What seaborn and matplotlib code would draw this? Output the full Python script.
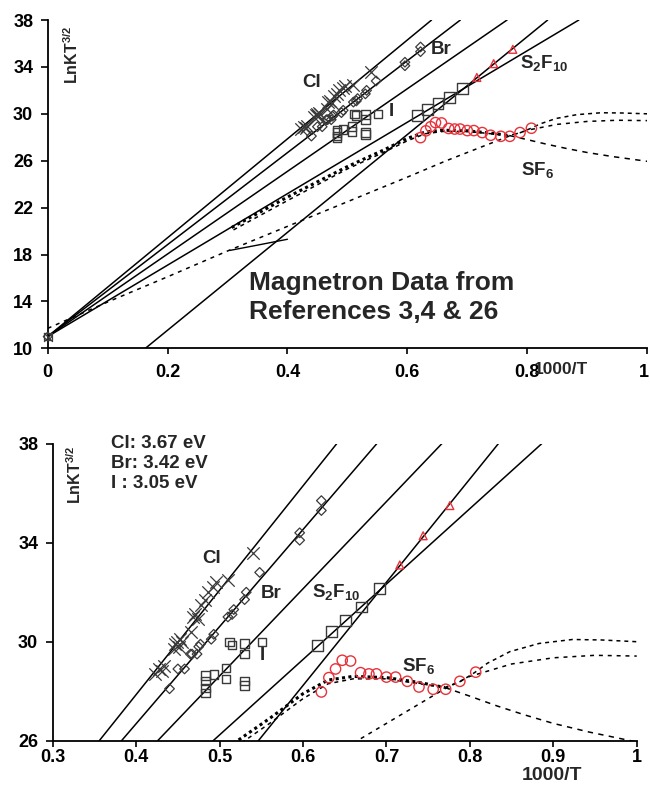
import numpy as np
import pandas as pd
import matplotlib
matplotlib.use("Agg")
import matplotlib.pyplot as plt
import matplotlib.transforms as mtransforms
import seaborn as sns

# ---------------- data ----------------
cl_x = [0.423, 0.427, 0.431, 0.433, 0.445, 0.447, 0.449, 0.451, 0.453, 0.455,
        0.466, 0.468, 0.471, 0.474, 0.478, 0.482, 0.486, 0.492, 0.496, 0.510, 0.540]
cl_y = [28.7, 28.9, 28.8, 29.0, 29.7, 29.9, 30.0, 29.8, 30.1, 30.0,
        30.4, 31.0, 31.1, 30.9, 31.5, 31.7, 32.0, 32.2, 32.4, 32.5, 33.6]

br_x = [0.440, 0.450, 0.458, 0.465, 0.467, 0.473, 0.475, 0.477, 0.490, 0.493,
        0.510, 0.515, 0.517, 0.530, 0.532, 0.548, 0.596, 0.596, 0.622, 0.622]
br_y = [28.1, 28.9, 28.9, 29.5, 29.5, 29.5, 29.8, 29.9, 30.1, 30.3,
        31.0, 31.1, 31.3, 31.7, 32.0, 32.8, 34.1, 34.4, 35.3, 35.7]

i_x = [0.483, 0.483, 0.483, 0.483, 0.493, 0.508, 0.508, 0.512, 0.515,
       0.530, 0.530, 0.530, 0.530, 0.551]
i_y = [28.63, 28.40, 28.13, 27.93, 28.67, 28.93, 28.49, 30.0, 29.87,
       29.93, 29.51, 28.40, 28.23, 30.0]

s2f10_sq_x = [0.617, 0.634, 0.651, 0.670, 0.692]
s2f10_sq_y = [29.85, 30.4, 30.87, 31.4, 32.15]

s2f10_tri_x = [0.716, 0.744, 0.776]
s2f10_tri_y = [33.1, 34.28, 35.5]

sf6_x = [0.622, 0.631, 0.639, 0.647, 0.657, 0.669, 0.679, 0.688, 0.700, 0.711,
         0.725, 0.739, 0.756, 0.771, 0.788, 0.807]
sf6_y = [27.97, 28.55, 28.9, 29.25, 29.22, 28.75, 28.7, 28.7, 28.57, 28.57,
         28.4, 28.17, 28.08, 28.08, 28.4, 28.77]

origin_x = [0.0]
origin_y = [11.0]

# fitted straight lines: y = intercept + slope * (1000/T)
line_names = ["Cl", "Br", "I", "S2F10 a", "S2F10 b"]
line_slope = [42.16, 39.22, 35.23, 30.47, 41.72]
line_icpt = [11.0, 11.0, 11.0, 11.0, 3.20]

# SF6 model curves
sf6a_x = [0.0, 0.1, 0.2, 0.3, 0.4, 0.5, 0.6, 0.665, 0.72, 0.77, 0.80, 0.85, 0.90, 0.95, 1.0]
sf6a_y = [11.7, 13.95, 16.1, 18.3, 20.4, 22.5, 24.6, 26.0, 27.1, 28.1, 28.6, 29.1, 29.35, 29.45, 29.42]

sf6d_x = [0.304, 0.35, 0.40]
sf6d_y = [18.35, 18.8, 19.3]

sf6b_x = [0.307, 0.40, 0.50, 0.56, 0.60, 0.63, 0.66, 0.70, 0.74, 0.77]
sf6b_y = [20.3, 22.9, 25.5, 26.9, 27.9, 28.45, 28.6, 28.55, 28.35, 28.15]

sf6b2_x = [0.77, 0.80, 0.833, 0.865, 0.90, 0.943, 1.0]
sf6b2_y = [28.15, 27.8, 27.4, 27.05, 26.7, 26.35, 25.95]

sf6c_x = [0.31, 0.40, 0.50, 0.56, 0.60, 0.63, 0.66, 0.70, 0.74, 0.77, 0.789, 0.806,
          0.821, 0.848, 0.883, 0.923, 0.958, 1.0]
sf6c_y = [20.1, 22.6, 25.3, 26.7, 27.7, 28.3, 28.5, 28.5, 28.3, 28.15, 28.4, 28.76,
          29.13, 29.6, 29.93, 30.09, 30.07, 30.0]

top_xticks = [0, 0.2, 0.4, 0.6, 0.8, 1]
top_xticklabels = ["0", "0.2", "0.4", "0.6", "0.8", "1"]
top_yticks = [10, 14, 18, 22, 26, 30, 34, 38]
bot_xticks = [0.3, 0.4, 0.5, 0.6, 0.7, 0.8, 0.9, 1.0]
bot_xticklabels = ["0.3", "0.4", "0.5", "0.6", "0.7", "0.8", "0.9", "1"]
bot_yticks = [26, 30, 34, 38]

# ---------------- style ----------------
sns.set_style("ticks")
plt.rcParams["font.family"] = ["Liberation Sans", "DejaVu Sans"]
plt.rcParams["font.weight"] = "bold"
plt.rcParams["mathtext.fontset"] = "custom"
plt.rcParams["mathtext.rm"] = "Liberation Sans:bold"
plt.rcParams["mathtext.it"] = "Liberation Sans:bold"
plt.rcParams["mathtext.bf"] = "Liberation Sans:bold"

RED = "#e8323a"
MK = "#3a3a3a"

fig = plt.figure(figsize=(6.5, 7.85), dpi=100)
ax1 = fig.add_axes([0.0734, 0.5563, 0.9221, 0.4182])
ax2 = fig.add_axes([0.0811, 0.0564, 0.8985, 0.3784])


def draw(ax, xlim, ylim):
    # straight fits
    for m, b in zip(line_slope, line_icpt):
        x0 = max(xlim[0], (ylim[0] - b) / m)
        x1 = min(xlim[1], (ylim[1] - b) / m)
        xs = np.array([x0, x1])
        d = pd.DataFrame({"x": xs, "y": b + m * xs})
        sns.lineplot(data=d, x="x", y="y", ax=ax, color="black", lw=1.1,
                     estimator=None, sort=False)
    # model curves
    for cx, cy, ls, lw in [(sf6a_x, sf6a_y, (0, (2.6, 3.2)), 1.1),
                           (sf6d_x, sf6d_y, "-", 1.0),
                           (sf6c_x, sf6c_y, (0, (2.6, 2.6)), 1.1),
                           (sf6b_x, sf6b_y, (0, (1.0, 1.1)), 2.2),
                           (sf6b2_x, sf6b2_y, (0, (3.5, 3.5)), 1.1)]:
        d = pd.DataFrame({"x": cx, "y": cy})
        sns.lineplot(data=d, x="x", y="y", ax=ax, color="black", lw=lw,
                     linestyle=ls, estimator=None, sort=False)
    # markers
    sns.scatterplot(x=cl_x, y=cl_y, ax=ax, marker="x", s=80, color=MK, linewidth=0.9, zorder=5)
    sns.scatterplot(x=br_x, y=br_y, ax=ax, marker="D", s=24, facecolor="none",
                    edgecolor=MK, linewidth=0.9, zorder=5)
    sns.scatterplot(x=i_x, y=i_y, ax=ax, marker="s", s=36, facecolor="none",
                    edgecolor=MK, linewidth=1.0, zorder=5)
    sns.scatterplot(x=s2f10_sq_x, y=s2f10_sq_y, ax=ax, marker="s", s=60, facecolor="none",
                    edgecolor=MK, linewidth=1.0, zorder=5)
    sns.scatterplot(x=s2f10_tri_x, y=s2f10_tri_y, ax=ax, marker="^", s=32, facecolor="none",
                    edgecolor=RED, linewidth=1.0, zorder=5)
    sns.scatterplot(x=sf6_x, y=sf6_y, ax=ax, marker="o", s=55, facecolor="none",
                    edgecolor=RED, linewidth=1.0, zorder=5)
    ax.set_xlim(*xlim)
    ax.set_ylim(*ylim)
    ax.set_xlabel("")
    ax.set_ylabel("")
    sns.despine(ax=ax)
    for s in ("left", "bottom"):
        ax.spines[s].set_linewidth(1.3)
        ax.spines[s].set_color("black")


draw(ax1, (0, 1), (10, 38))
for mk, sz in [("s", 30), ("D", 20), ("x", 40)]:
    ax1.scatter(origin_x, origin_y, marker=mk, s=sz, facecolor="none" if mk != "x" else MK,
                edgecolor=MK, linewidth=0.9, clip_on=False, zorder=6)
draw(ax2, (0.3, 1.0), (26, 38))

ax1.set_xticks(top_xticks)
ax1.set_xticklabels(top_xticklabels)
ax1.set_yticks(top_yticks)
ax2.set_xticks(bot_xticks)
ax2.set_xticklabels(bot_xticklabels)
ax2.set_yticks(bot_yticks)
TS = 13
ax1.tick_params(axis="x", length=4, width=1.2, pad=7.5, labelsize=TS, colors="black")
ax1.tick_params(axis="y", length=5, width=1.2, pad=5.5, labelsize=TS, colors="black")
ax2.tick_params(axis="x", length=4, width=1.2, pad=2.0, labelsize=TS, colors="black")
ax2.tick_params(axis="y", length=5, width=1.2, pad=5.5, labelsize=TS, colors="black")
for ax in (ax1, ax2):
    for lab in ax.get_xticklabels() + ax.get_yticklabels():
        lab.set_fontweight("bold")
# keep the last top tick label inside the canvas
last = ax1.get_xticklabels()[-1]
last.set_transform(last.get_transform() +
                   mtransforms.ScaledTranslation(-3 / 100, 0, fig.dpi_scale_trans))

# ---------------- text ----------------
def px(x, y):
    return x / 650.0, 1 - y / 785.0

fig.text(*px(72, 55), r"LnKT$^{3/2}$", rotation=90, ha="center", va="center",
         fontsize=11.5, fontweight="bold")
fig.text(*px(75, 475), r"LnKT$^{3/2}$", rotation=90, ha="center", va="center",
         fontsize=11.5, fontweight="bold")

fs = 13.5
ax1.text(0.44, 32.65, "Cl", ha="center", va="center", fontsize=fs, fontweight="bold")
ax1.text(0.657, 35.5, "Br", ha="center", va="center", fontsize=fs, fontweight="bold")
ax1.text(0.573, 30.2, "I", ha="center", va="center", fontsize=fs, fontweight="bold")
ax1.text(0.829, 34.3, r"S$_2$F$_{10}$", ha="center", va="center", fontsize=fs, fontweight="bold")
ax1.text(0.818, 25.2, r"SF$_6$", ha="center", va="center", fontsize=fs, fontweight="bold")

fig.text(*px(249, 283), "Magnetron Data from", ha="left", va="center",
         fontsize=19, fontweight="bold")
fig.text(*px(249, 312), "References 3,4 & 26", ha="left", va="center",
         fontsize=19, fontweight="bold")
fig.text(*px(561, 370), "1000/T", ha="center", va="center", fontsize=12.5, fontweight="bold")

ax2.text(0.4906, 33.37, "Cl", ha="center", va="center", fontsize=fs, fontweight="bold")
ax2.text(0.5622, 31.93, "Br", ha="center", va="center", fontsize=fs, fontweight="bold")
ax2.text(0.640, 32.0, r"S$_2$F$_{10}$", ha="center", va="center", fontsize=fs, fontweight="bold")
ax2.text(0.5507, 29.45, "I", ha="center", va="center", fontsize=fs, fontweight="bold")
ax2.text(0.7388, 29.0, r"SF$_6$", ha="center", va="center", fontsize=fs, fontweight="bold")

for k, t in enumerate(["Cl: 3.67 eV", "Br: 3.42 eV", "I : 3.05 eV"]):
    fig.text(*px(111, 443 + 20 * k), t, ha="left", va="center", fontsize=13.5, fontweight="bold")
fig.text(*px(552, 776), "1000/T", ha="center", va="center", fontsize=14, fontweight="bold")

fig.savefig("out.png", dpi=100)
